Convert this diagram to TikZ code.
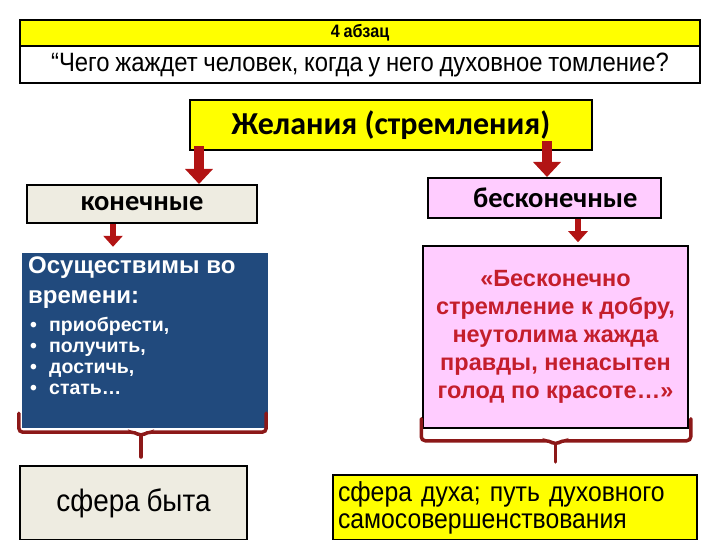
\documentclass[tikz,border=0pt]{standalone}
\usepackage{fontspec}
\setmainfont{Liberation Sans}
\newfontfamily\calfont{Carlito}
\newfontfamily\narrowfont[FakeStretch=0.9, WordSpace=0.85]{Liberation Sans}
\usetikzlibrary{arrows.meta, positioning, calc}
\definecolor{cyel}  {RGB}{255, 255,   0}
\definecolor{cbeige}{RGB}{238, 236, 225}
\definecolor{cpink} {RGB}{255, 204, 255}
\definecolor{cblue} {RGB}{ 33,  74, 125}
\definecolor{cwine} {RGB}{196,  30,  44}
\definecolor{carrow}{RGB}{178,  20,  20}
\definecolor{cbrace}{RGB}{140,  24,  24}
\tikzset{
  box/.style     = {rectangle, draw=black, line width=2pt, inner sep=0pt},
  headbox/.style = {box, fill=cyel, font=\narrowfont\bfseries\fontsize{18}{20}\selectfont,
                    minimum width=680pt, minimum height=26pt},
  qbox/.style    = {box, fill=white, font=\narrowfont\fontsize{26.5}{30}\selectfont,
                    minimum width=680pt, minimum height=37pt},
  wishbox/.style = {box, fill=cyel, font=\calfont\bfseries\fontsize{32}{36}\selectfont,
                    minimum width=402pt, minimum height=50pt},
  kindbox/.style = {box, font=\calfont\bfseries\fontsize{28.5}{32}\selectfont},
  bluebox/.style = {rectangle, fill=cblue, minimum width=246pt, minimum height=175pt},
  item/.style    = {text=white, inner sep=0pt, anchor=base west,
                    font=\bfseries\fontsize{19.5}{21}\selectfont},
  quotebox/.style= {box, fill=cpink, line width=1.5pt, text=cwine, align=center,
                    font=\bfseries\fontsize{23.5}{28}\selectfont,
                    minimum width=265pt, minimum height=182pt},
  sphere/.style  = {box, font=\narrowfont\fontsize{27.5}{27}\selectfont},
  bigarr/.style  = {carrow, line width=10pt, -{Triangle[width=27pt, length=15pt]}},
  smallarr/.style= {carrow, line width=6pt, -{Triangle[width=19pt, length=11pt]}},
  brace/.style   = {cbrace, line width=3.5pt, rounded corners=4pt, line cap=round}
}

\begin{document}
\begin{tikzpicture}[x=1pt, y=-1pt]
\useasboundingbox (0,0) rectangle (720,540);

% ── Heading ────────────────────────────────────────────────────────────────
\node[headbox] (head)  at (360, 33)   {4 абзац};
\node[qbox]    (quest) at (360, 64.5) {“Чего жаждет человек, когда у него духовное томление?};

% ── Wishes and their two kinds ─────────────────────────────────────────────
\node[wishbox] (wish) at (391, 125) {Желания (стремления)};
\node[kindbox, fill=cbeige, minimum width=230pt, minimum height=38pt] (fin) at (142, 204) {конечные};
\node[kindbox, fill=cpink,  minimum width=233pt, minimum height=40pt,
      text width=186pt, align=right] (inf) at (544.5, 198) {бесконечные};

% ── Content boxes ──────────────────────────────────────────────────────────
\node[bluebox] (real) at (145, 340.5) {};
\node[anchor=north west, text=white, align=left, inner sep=0pt,
      font=\bfseries\fontsize{24}{30}\selectfont] (realtxt) at (28, 257)
  {Осуществимы во\\времени:};
\foreach \i/\w in {0/{приобрести,}, 1/{получить,}, 2/{достичь,}, 3/{стать…}}
  \node[item] (it\i) at (30, {331+21*\i}) {\makebox[19pt][l]{•}\w};
\node[quotebox] (quote) at (555.5, 337)
  {«Бесконечно\\стремление к добру,\\неутолима жажда\\правды, ненасытен\\голод по красоте…»};

% ── Spheres ────────────────────────────────────────────────────────────────
\node[sphere, fill=cbeige, minimum width=227pt, minimum height=74pt,
      font=\narrowfont\fontsize{31}{34}\selectfont] (life) at (133.5, 503) {сфера быта};
\node[sphere, fill=cyel, minimum width=364pt, minimum height=65pt, align=left,
      text width=354pt] (spirit) at (515, 507.5)
  {сфера духа; путь духовного\\самосовершенствования};

% ── Arrows ─────────────────────────────────────────────────────────────────
\coordinate (wl) at ($(wish.south west)+(10,-5)$);
\coordinate (wr) at ($(wish.south)+(156,-10)$);
\draw[bigarr] (wl) -- (wl |- fin.north);
\draw[bigarr] (wr) -- (wr |- inf.north);

\coordinate (fl) at ($(fin.south)+(-29,0)$);
\coordinate (il) at ($(inf.south)+(33.5,0)$);
\draw[smallarr] (fl) -- ($(fl |- real.north)+(0,-6)$);
\draw[smallarr] (il) -- ($(il |- quote.north)+(0,-3)$);

% ── Braces ─────────────────────────────────────────────────────────────────
\coordinate (lb) at ($(real.south)+(-4,4)$);
\draw[brace] ($(real.south west)+(-3,-15)$) |- ($(lb)+(-6,0)$) -- ($(lb)+(0,4)$)
  -- ($(lb)+(6,0)$) -| ($(real.south east)+(-2,-15)$);
\draw[brace] ($(lb)+(0,4)$) -- ($(lb |- life.north)+(0,-8)$);

\coordinate (rb) at ($(quote.south)+(0,12)$);
\draw[brace] ($(quote.south west)+(-1,-10)$) |- ($(rb)+(-6,0)$) -- ($(rb)+(0,4)$)
  -- ($(rb)+(6,0)$) -| ($(quote.south east)+(2,-10)$);
\draw[brace] ($(rb)+(0,4)$) -- ($(rb |- spirit.north)+(0,-12)$);

\end{tikzpicture}
\end{document}
